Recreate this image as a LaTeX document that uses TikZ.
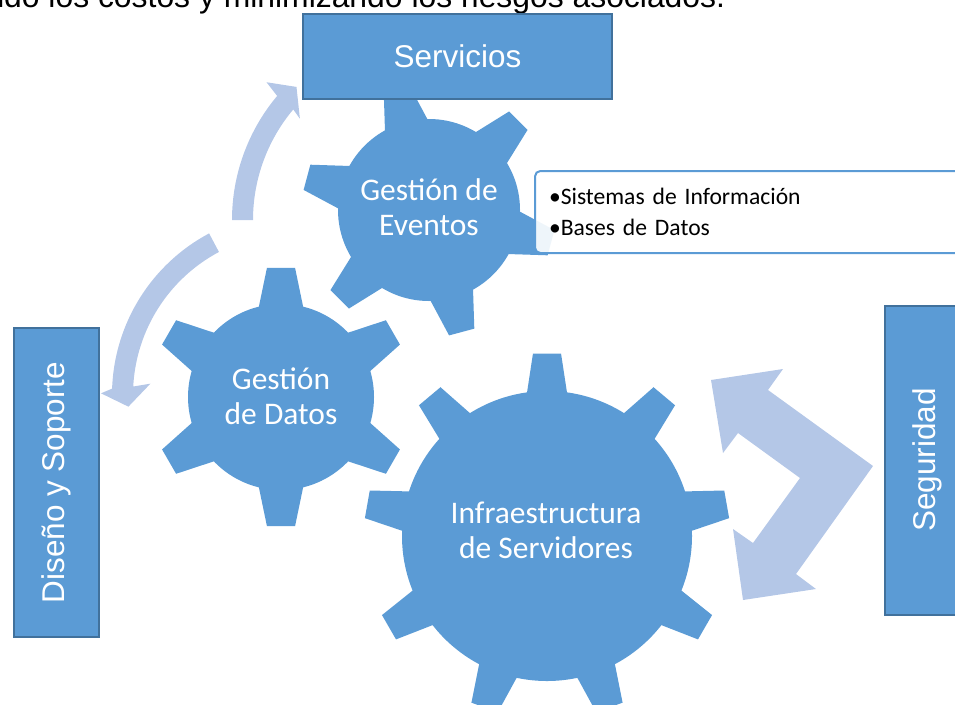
\documentclass[tikz,border=0pt]{standalone}
\usepackage{fontspec}
\usetikzlibrary{calc}
\newfontfamily\arialfont{Liberation Sans}
\newfontfamily\calibrifont{Carlito}
\definecolor{gearblue}{RGB}{91,155,213}
\definecolor{boxline}{RGB}{65,113,156}
\definecolor{arrowblue}{RGB}{180,199,231}

\tikzset{every picture/.style={line width=0.75pt}}
\tikzset{
  labelbox/.style={draw=boxline, line width=1.5pt, fill=gearblue, text=white, inner sep=0pt,
    minimum width=231.75pt, minimum height=63.75pt, font=\arialfont\fontsize{23.6}{28}\selectfont},
  geartext/.style={text=white, align=center, inner sep=0pt, font=\calibrifont\fontsize{23.6}{26.5}\selectfont},
  infobox/.style={draw=gearblue, line width=1.5pt, fill=white, fill opacity=0.9, text opacity=1,
    rounded corners=4pt, inner xsep=10.5pt, inner ysep=0pt, text width=328.5pt, minimum height=61.5pt,
    align=left, font=\calibrifont\fontsize{17.7}{23.25}\selectfont}
}

% gear: centre, body radius, tip radius, half base angle, half tip angle, tooth angles
\newcommand{\gearfill}[6]{%
  \fill[gearblue] (#1) circle[radius=#2];
  \foreach \a in {#6}{
    \fill[gearblue] ($(#1)+({-\a-#4}:{#2-4})$) -- ($(#1)+({-\a-#5}:#3)$) -- ($(#1)+({-\a+#5}:#3)$) -- ($(#1)+({-\a+#4}:{#2-4})$) -- cycle;
  }
}

\begin{document}
\begin{tikzpicture}[x=0.75pt,y=0.75pt,yscale=-1,xscale=1]
\useasboundingbox (0,0) rectangle (955,704);
\clip (0,0) rectangle (955,704);

% Text Node
\node[anchor=base west, inner sep=0pt, font=\arialfont\fontsize{23.9}{28}\selectfont] (intro) at (-14,7) {ndo los costos y minimizando los riesgos asociados.};

% Arrow to Servicios
\coordinate (arcA) at (425,220);
\fill[arrowblue] ($(arcA)+(180:193)$) arc[start angle=180, end angle=220, radius=193] -- ($(arcA)+(221:210)$) -- ($(arcA)+(226:185)$) -- ($(arcA)+(219:161)$) -- ($(arcA)+(220:172)$) arc[start angle=220, end angle=180, radius=172] -- cycle;

% Arrow to Diseno
\coordinate (arcB) at (295,395);
\fill[arrowblue] ($(arcB)+(-118:183)$) arc[start angle=-118, end angle=-178, radius=183] -- ($(arcB)+(-179.5:194)$) -- ($(arcB)+(-184:167)$) -- ($(arcB)+(-175.5:145)$) -- ($(arcB)+(-177:162)$) arc[start angle=-177, end angle=-118, radius=162] -- cycle;

% Arrow Seguridad
\fill[arrowblue] (711,380) -- (783,369) -- (768,390) -- (873,466) -- (796,574) -- (816,589) -- (743,600) -- (733,529) -- (753,543) -- (800,478) -- (738,433) -- (723,453) -- cycle;

% Gears
\coordinate (infraC) at (547,536);
\gearfill{infraC}{145}{183}{8.4}{4.4}{10,50,...,330}
\coordinate (datosC) at (281,397);
\gearfill{datosC}{93}{130}{15}{6.2}{30,90,...,330}
\coordinate (eventosC) at (429,210);
\gearfill{eventosC}{91}{127}{15.3}{5.9}{45,105,...,345}

% Text Node
\node[geartext] (infra) at (546,530) {Infraestructura\\de Servidores};
\node[geartext] (datos) at (281,396) {Gestión\\de Datos};
\node[geartext] (eventos) at (429,207) {Gestión de\\Eventos};

% Boxes
\node[labelbox] (servicios) at (457.5,56.5) {Servicios};
\node[labelbox, rotate=90] (diseno) at (56,482.5) {Diseño y Soporte};
\node[labelbox, rotate=90] (seguridad) at (927,460) {Seguridad};

% Text Node
\node[infobox, anchor=north west] (info) at (534,170) {\textbullet Sistemas de Información\\\textbullet Bases de Datos};

\end{tikzpicture}
\end{document}
